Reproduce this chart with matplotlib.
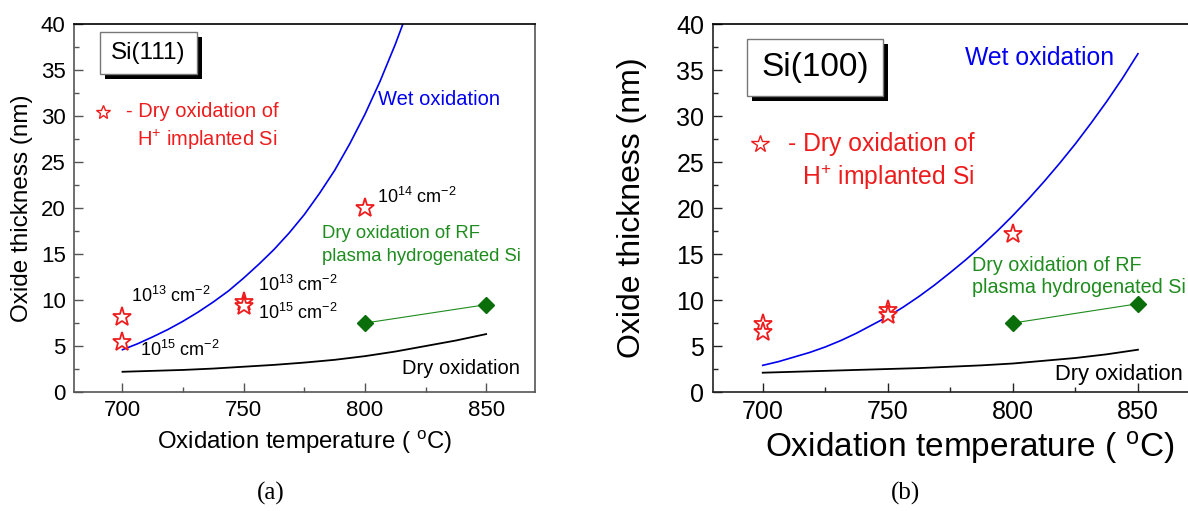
import matplotlib
matplotlib.use("Agg")
import matplotlib.pyplot as plt
from matplotlib.patches import Rectangle

plt.rcParams['font.family'] = ['Liberation Sans', 'DejaVu Sans']
plt.rcParams['mathtext.fontset'] = 'custom'
plt.rcParams['mathtext.rm'] = 'Liberation Sans'
plt.rcParams['mathtext.it'] = 'Liberation Sans:italic'
plt.rcParams['mathtext.bf'] = 'Liberation Sans:bold'

# ---------------- data ----------------
# Si(111)
wet111_T = [700, 706.25, 712.5, 718.75, 725, 731.25, 737.5, 743.75, 750, 756.25,
            762.5, 768.75, 775, 781.25, 787.5, 793.75, 800, 806.25, 812.5, 818.75]
wet111_d = [4.6, 5.25, 6.0, 6.8, 7.7, 8.7, 9.8, 11.0, 12.4, 13.9,
            15.5, 17.3, 19.3, 21.6, 24.1, 27.0, 30.2, 33.8, 37.8, 42.2]
dry111_T = [700, 712.5, 725, 737.5, 750, 762.5, 775, 787.5, 800, 812.5, 825, 837.5, 850]
dry111_d = [2.2, 2.3, 2.4, 2.55, 2.75, 2.95, 3.2, 3.5, 3.9, 4.4, 5.0, 5.6, 6.3]
star111_T = [700, 700, 750, 750, 800]
star111_d = [8.2, 5.4, 9.8, 9.4, 20.0]
rf111_T = [800, 850]
rf111_d = [7.5, 9.5]

# Si(100)
wet100_T = [700, 706.25, 712.5, 718.75, 725, 731.25, 737.5, 743.75, 750, 756.25,
            762.5, 768.75, 775, 781.25, 787.5, 793.75, 800, 806.25, 812.5, 818.75,
            825, 831.25, 837.5, 843.75, 850]
wet100_d = [2.9, 3.3, 3.8, 4.3, 4.9, 5.6, 6.4, 7.3, 8.2, 9.25,
            10.4, 11.65, 13.0, 14.4, 15.9, 17.5, 19.2, 21.0, 22.9, 24.9,
            27.0, 29.25, 31.6, 34.1, 36.8]
dry100_T = [700, 712.5, 725, 737.5, 750, 762.5, 775, 787.5, 800, 812.5, 825, 837.5, 850]
dry100_d = [2.1, 2.2, 2.3, 2.4, 2.5, 2.6, 2.75, 2.9, 3.1, 3.4, 3.7, 4.1, 4.6]
star100_T = [700, 700, 750, 750, 800]
star100_d = [7.4, 6.5, 8.9, 8.4, 17.2]
rf100_T = [800, 850]
rf100_d = [7.5, 9.6]

xticks = [700, 750, 800, 850]
yticks = [0, 5, 10, 15, 20, 25, 30, 35, 40]

RED = '#ee1c1c'
BLUE = '#0000ee'
GREEN_TXT = '#1e8c1e'
GREEN_MK = '#0a6e0a'

W, H = 1188, 511
fig = plt.figure(figsize=(W / 100, H / 100), dpi=100)


def px_rect(x0, y0, x1, y1):
    """pixel (from top-left) -> figure fraction rect"""
    return [x0 / W, 1 - y1 / H, (x1 - x0) / W, (y1 - y0) / H]


axL = fig.add_axes(px_rect(74, 24.3, 534.6, 392))
axR = fig.add_axes(px_rect(712.7, 24.3, 1228, 392))


def style(ax, xr, tick_fs, spine_col):
    ax.set_xlim(*xr)
    ax.set_ylim(0, 40)
    ax.set_xticks(xticks)
    ax.set_yticks(yticks)
    ax.set_xticks([725, 775, 825], minor=True)
    ax.set_yticks([2.5 + 5 * i for i in range(8)], minor=True)
    ax.tick_params(which='both', direction='in', top=False, right=False,
                   labelsize=tick_fs, color=spine_col, width=1)
    ax.tick_params(which='major', length=6.5, pad=6)
    ax.tick_params(which='minor', length=3.5)
    for s in ['left', 'bottom', 'right']:
        ax.spines[s].set_color(spine_col)
        ax.spines[s].set_linewidth(1.2)
    ax.spines['top'].set_color('black')
    ax.spines['top'].set_linewidth(1.2)


style(axL, (680, 870), 16, '#555555')
style(axR, (680, 886), 18, '#222222')
axR.spines['right'].set_visible(False)

# ---------------- left panel ----------------
axL.plot(wet111_T, wet111_d, color=BLUE, lw=1.2)
axL.plot(dry111_T, dry111_d, color='black', lw=1.3)
axL.plot(rf111_T, rf111_d, color=GREEN_TXT, lw=0.8, marker='D', ms=8,
         mfc=GREEN_MK, mec=GREEN_MK)
axL.plot(star111_T, star111_d, ls='none', marker='*', ms=14, mfc='white',
         mec=RED, mew=1.3)
axL.plot([691.8], [30.5], ls='none', marker='*', ms=10, mfc='white', mec=RED, mew=1.0)

fsL = 14.5
axL.text(701.4, 30.5, '- Dry oxidation of', color=RED, fontsize=fsL, va='center')
axL.text(706, 27.4, 'H$^{+}$ implanted Si', color=RED, fontsize=fsL, va='center')
axL.text(805.5, 31.8, 'Wet oxidation', color=BLUE, fontsize=fsL, va='center')
axL.text(815.4, 2.6, 'Dry oxidation', color='black', fontsize=fsL, va='center')
axL.text(782.2, 17.2, 'Dry oxidation of RF', color=GREEN_TXT, fontsize=13.3, va='center')
axL.text(782.2, 14.7, 'plasma hydrogenated Si', color=GREEN_TXT, fontsize=13.3, va='center')
fsD = 13
axL.text(703.4, 10.5, '10$^{13}$ cm$^{-2}$', fontsize=fsD, va='center')
axL.text(707.4, 4.6, '10$^{15}$ cm$^{-2}$', fontsize=fsD, va='center')
axL.text(755.7, 11.6, '10$^{13}$ cm$^{-2}$', fontsize=fsD, va='center')
axL.text(755.7, 8.55, '10$^{15}$ cm$^{-2}$', fontsize=fsD, va='center')
axL.text(805.1, 21.2, '10$^{14}$ cm$^{-2}$', fontsize=fsD, va='center')

axL.set_xlabel('Oxidation temperature ( $^{\\mathrm{o}}$C)', fontsize=17.3)
axL.set_ylabel('Oxide thickness (nm)', fontsize=17.5)
axL.xaxis.set_label_coords(0.5, -0.137, transform=axL.transAxes)
axL.xaxis.label.set_va('center')
axL.yaxis.set_label_coords(-0.113, 0.5, transform=axL.transAxes)
axL.yaxis.label.set_va('center')

# ---------------- right panel ----------------
axR.plot(wet100_T, wet100_d, color=BLUE, lw=1.2)
axR.plot(dry100_T, dry100_d, color='black', lw=1.3)
axR.plot(rf100_T, rf100_d, color=GREEN_TXT, lw=0.8, marker='D', ms=8,
         mfc=GREEN_MK, mec=GREEN_MK)
axR.plot(star100_T, star100_d, ls='none', marker='*', ms=14, mfc='white',
         mec=RED, mew=1.3)
axR.plot([699], [27.0], ls='none', marker='*', ms=13, mfc='white', mec=RED, mew=1.0)

fsR = 17.8
axR.text(710.1, 27.0, '- Dry oxidation of', color=RED, fontsize=fsR, va='center')
axR.text(715.8, 23.4, 'H$^{+}$ implanted Si', color=RED, fontsize=fsR, va='center')
axR.text(781, 36.3, 'Wet oxidation', color=BLUE, fontsize=fsR, va='center')
axR.text(816.9, 1.85, 'Dry oxidation', color='black', fontsize=15.8, va='center')
axR.text(783.7, 13.8, 'Dry oxidation of RF', color=GREEN_TXT, fontsize=14.2, va='center')
axR.text(783.7, 11.4, 'plasma hydrogenated Si', color=GREEN_TXT, fontsize=14.2, va='center')

axR.set_xlabel('Oxidation temperature ( $^{\\mathrm{o}}$C)', fontsize=24)
axR.set_ylabel('Oxide thickness (nm)', fontsize=23)
axR.xaxis.set_label_coords(0.499, -0.15, transform=axR.transAxes)
axR.xaxis.label.set_va('center')
axR.yaxis.set_label_coords(-0.157, 0.5, transform=axR.transAxes)
axR.yaxis.label.set_va('center')


# ---------------- shadowed boxes ----------------
def shadow_box(x0, y0, x1, y1, label, fs):
    sh = 5
    fig.add_artist(Rectangle(px_rect(x0 + sh, y0 + sh, x1 + sh, y1 + sh)[:2],
                             (x1 - x0) / W, (y1 - y0) / H,
                             transform=fig.transFigure, facecolor='black',
                             edgecolor='black', lw=0, zorder=5))
    fig.add_artist(Rectangle(px_rect(x0, y0, x1, y1)[:2],
                             (x1 - x0) / W, (y1 - y0) / H,
                             transform=fig.transFigure, facecolor='white',
                             edgecolor='#777777', lw=1.0, zorder=6))
    fig.text((x0 + x1) / 2 / W, 1 - (y0 + y1) / 2 / H, label, fontsize=fs,
             ha='center', va='center', zorder=7)


shadow_box(100, 31.7, 196.7, 74, 'Si(111)', 17.5)
shadow_box(747.3, 39, 882.7, 96, 'Si(100)', 24)

# ---------------- captions ----------------
fig.text(271 / W, 1 - 493 / H, '(a)', fontsize=18, family='Liberation Serif',
         ha='center', va='center')
fig.text(905 / W, 1 - 493 / H, '(b)', fontsize=18, family='Liberation Serif',
         ha='center', va='center')

fig.savefig('out.png', dpi=100)
